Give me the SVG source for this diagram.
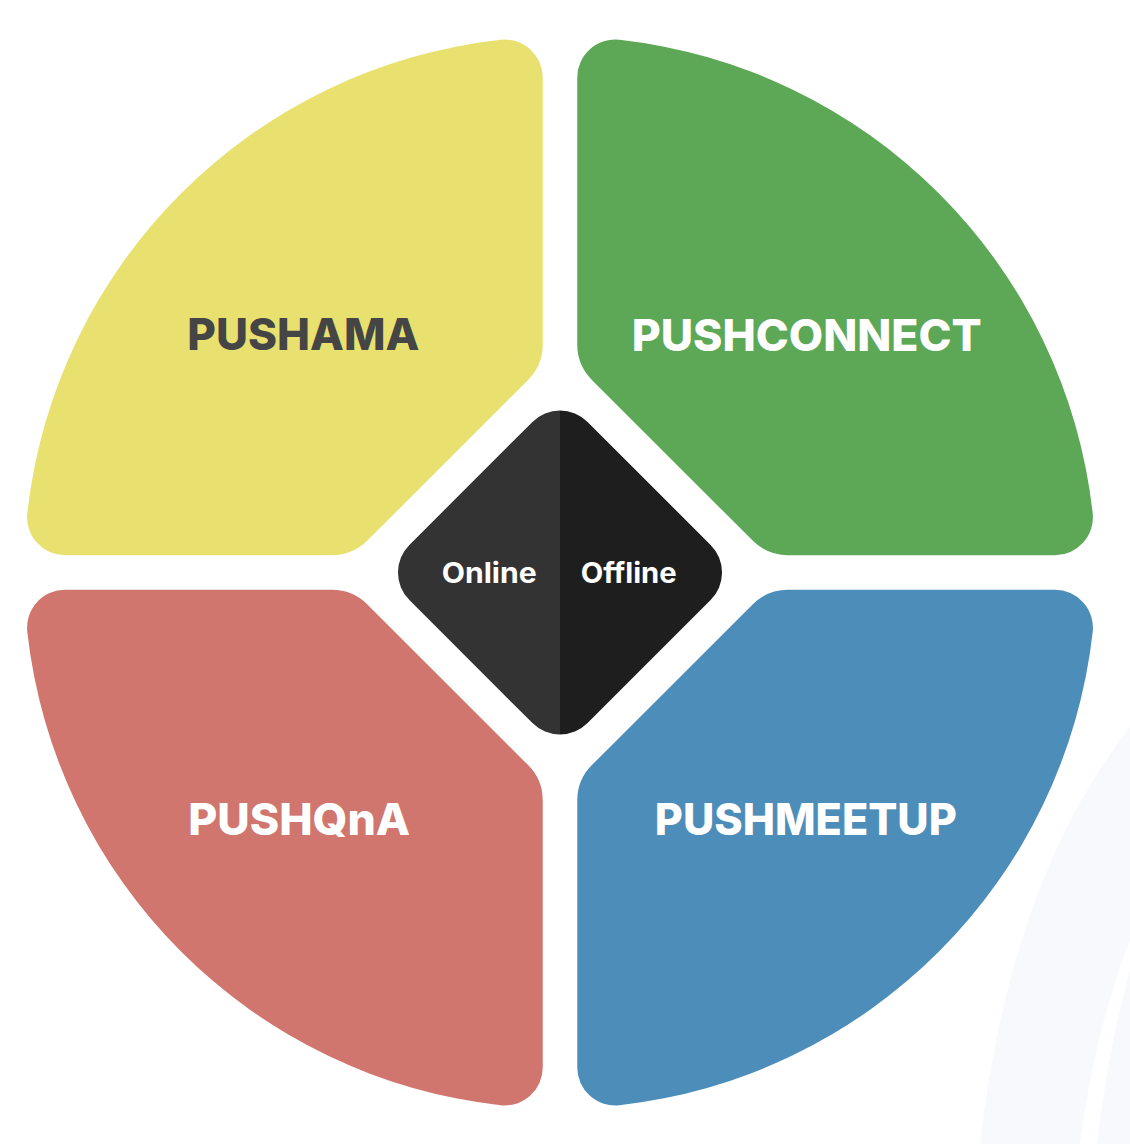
<svg xmlns="http://www.w3.org/2000/svg" width="1130" height="1144" viewBox="0 0 1130 1144">
  <defs>
    <style>
      .label { font-family: Inter, "Liberation Sans", sans-serif; font-weight: 800; text-anchor: middle; }
      .big { font-size: 44px; }
      .small { font-size: 28px; font-weight: 700; fill: #ffffff; }
      .bg { fill: #F7F9FC; }
    </style>
    <path id="quad" d="M -17.25,-494.9 L -17.25,-228 A 50 50 0 0 1 -31.9,-192.6 L -192.6,-31.9 A 50 50 0 0 1 -228,-17.25 L -494.9,-17.25 A 38 38 0 0 1 -532.7,-59.47 A 536 536 0 0 1 -59.47,-532.7 A 38 38 0 0 1 -17.25,-494.9 Z"/>
    <clipPath id="diamondClip">
      <rect x="-126" y="-126" width="252" height="252" rx="39" ry="39" transform="translate(560,572.5) rotate(45)"/>
    </clipPath>
  </defs>
  <rect width="1130" height="1144" fill="#ffffff"/>
  <g id="background">
    <path class="bg" d="M 980,1144 Q 1010,880 1130,727 L 1130,940 Q 1095,1030 1080,1144 Z"/>
    <path class="bg" d="M 1097,1144 Q 1108,1050 1130,970 L 1130,1144 Z"/>
  </g>
  <g id="pushama">
    <use href="#quad" transform="translate(560,572.5)" fill="#E8E170"/>
    <text class="label big" x="303.3" y="350" fill="#454545" textLength="232" lengthAdjust="spacingAndGlyphs">PUSHAMA</text>
  </g>
  <g id="pushconnect">
    <use href="#quad" transform="translate(560,572.5) scale(-1,1)" fill="#5CA856"/>
    <text class="label big" x="806.7" y="350.5" fill="#ffffff" textLength="350" lengthAdjust="spacingAndGlyphs">PUSHCONNECT</text>
  </g>
  <g id="pushqna">
    <use href="#quad" transform="translate(560,572.5) scale(1,-1)" fill="#D0766E"/>
    <text class="label big" x="299.2" y="835" fill="#ffffff" textLength="222" lengthAdjust="spacingAndGlyphs">PUSHQnA</text>
  </g>
  <g id="pushmeetup">
    <use href="#quad" transform="translate(560,572.5) scale(-1,-1)" fill="#4D8DBA"/>
    <text class="label big" x="805.8" y="835" fill="#ffffff" textLength="302" lengthAdjust="spacingAndGlyphs">PUSHMEETUP</text>
  </g>
  <g id="center">
    <g clip-path="url(#diamondClip)">
      <rect x="390" y="400" width="170" height="345" fill="#333333"/>
      <rect x="560" y="400" width="170" height="345" fill="#1E1E1E"/>
    </g>
    <text class="label small" x="489.2" y="582.5" textLength="95" lengthAdjust="spacingAndGlyphs">Online</text>
    <text class="label small" x="628.7" y="582.5" textLength="96" lengthAdjust="spacingAndGlyphs">Offline</text>
  </g>
  <g id="connectors"/>
</svg>
